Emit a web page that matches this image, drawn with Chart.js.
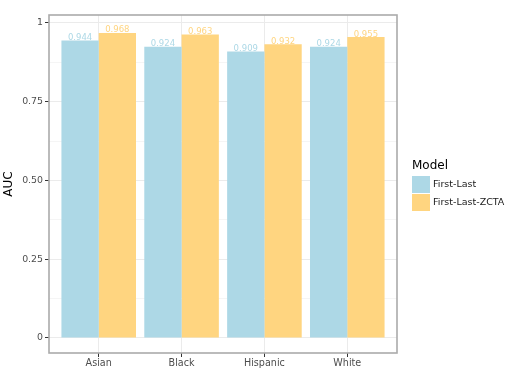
<!DOCTYPE html>
<html>
<head>
<meta charset="utf-8">
<script src="https://cdn.jsdelivr.net/npm/chart.js@4"></script>
<style>
html,body{margin:0;padding:0;background:#fff;}
#wrap{width:512px;height:384px;position:relative;}
</style>
</head>
<body>
<div id="wrap"><canvas id="c" width="512" height="384"></canvas></div>
<script>
const categories = ["Asian", "Black", "Hispanic", "White"];
const firstLast = [0.944, 0.924, 0.909, 0.924];
const firstLastZCTA = [0.968, 0.963, 0.932, 0.955];
const seriesNames = ["First-Last", "First-Last-ZCTA"];
const yTickValues = [0, 0.125, 0.25, 0.375, 0.5, 0.625, 0.75, 0.875, 1];
const yTickLabels = {"0": "0", "0.25": "0.25", "0.5": "0.50", "0.75": "0.75", "1": "1"};

const colors = ["#ADD8E6", "#FFD580"];
const FONT = "'DejaVu Sans', sans-serif";

const toPts = arr => arr.map((v, i) => ({x: i, y: v}));

const panelPlugin = {
  id: 'panel',
  afterDatasetsDraw(chart) {
    const ctx = chart.ctx;
    ctx.save();
    ctx.font = "8.5px " + FONT;
    ctx.textAlign = "center";
    ctx.textBaseline = "bottom";
    chart.data.datasets.forEach((ds, di) => {
      const meta = chart.getDatasetMeta(di);
      meta.data.forEach((el, i) => {
        ctx.fillStyle = colors[di];
        ctx.fillText(ds.data[i].y.toFixed(3), el.x, el.y + 1.5);
      });
    });
    ctx.restore();
    const a = chart.chartArea;
    ctx.save();
    ctx.strokeStyle = "#ababab";
    ctx.lineWidth = 1.6;
    ctx.strokeRect(a.left, a.top, a.right - a.left, a.bottom - a.top);
    ctx.restore();
    ctx.save();
    ctx.fillStyle = "#000";
    ctx.font = "12px " + FONT;
    ctx.textAlign = "left";
    ctx.textBaseline = "middle";
    ctx.fillText("Model", 412, 165.5);
    ctx.font = "9.5px " + FONT;
    chart.data.datasets.forEach((ds, di) => {
      const y = 176 + di * 18;
      ctx.fillStyle = colors[di];
      ctx.fillRect(412, y, 18, 17);
      ctx.fillStyle = "#1a1a1a";
      ctx.fillText(ds.label, 433, y + 8.5);
    });
    ctx.restore();
  }
};

new Chart(document.getElementById('c'), {
  type: 'bar',
  data: {
    datasets: [
      {label: seriesNames[0], data: toPts(firstLast), backgroundColor: colors[0], borderWidth: 0},
      {label: seriesNames[1], data: toPts(firstLastZCTA), backgroundColor: colors[1], borderWidth: 0}
    ]
  },
  options: {
    responsive: false,
    animation: false,
    devicePixelRatio: 1,
    layout: {padding: {left: 0, top: 15, right: 115, bottom: 0}},
    datasets: {bar: {categoryPercentage: 0.9, barPercentage: 1.0}},
    plugins: {legend: {display: false}, tooltip: {enabled: false}},
    scales: {
      x: {
        type: 'linear',
        offset: false,
        min: -0.6,
        max: 3.6,
        afterBuildTicks(scale) { scale.ticks = categories.map((c, i) => ({value: i})); },
        afterFit(scale) { scale.height = 31; },
        ticks: {
          callback: (v) => categories[v] ?? "",
          font: {family: FONT, size: 9.6},
          color: "#4d4d4d",
          padding: 1,
          maxRotation: 0,
          autoSkip: false
        },
        grid: {offset: false, color: "#ebebeb", lineWidth: 1, tickLength: 4, tickColor: "#333333"},
        border: {display: false}
      },
      y: {
        type: 'linear',
        min: -0.048,
        max: 1.025,
        afterBuildTicks(scale) { scale.ticks = yTickValues.map(v => ({value: v})); },
        afterFit(scale) { scale.width = 49; },
        ticks: {
          callback: (v) => yTickLabels[String(v)] ?? "",
          font: {family: FONT, size: 9.4},
          color: "#4d4d4d",
          padding: 2,
          autoSkip: false
        },
        grid: {
          color: (c) => (c.tick && yTickLabels[String(c.tick.value)] !== undefined) ? "#ebebeb" : "#f5f5f5",
          lineWidth: 1,
          tickLength: 4,
          tickColor: (c) => (c.tick && yTickLabels[String(c.tick.value)] !== undefined) ? "#333333" : "rgba(0,0,0,0)"
        },
        border: {display: false},
        title: {display: true, text: "AUC", font: {family: FONT, size: 12}, color: "#000", padding: {top: 2, bottom: 0}}
      }
    }
  },
  plugins: [panelPlugin]
});
</script>
</body>
</html>
